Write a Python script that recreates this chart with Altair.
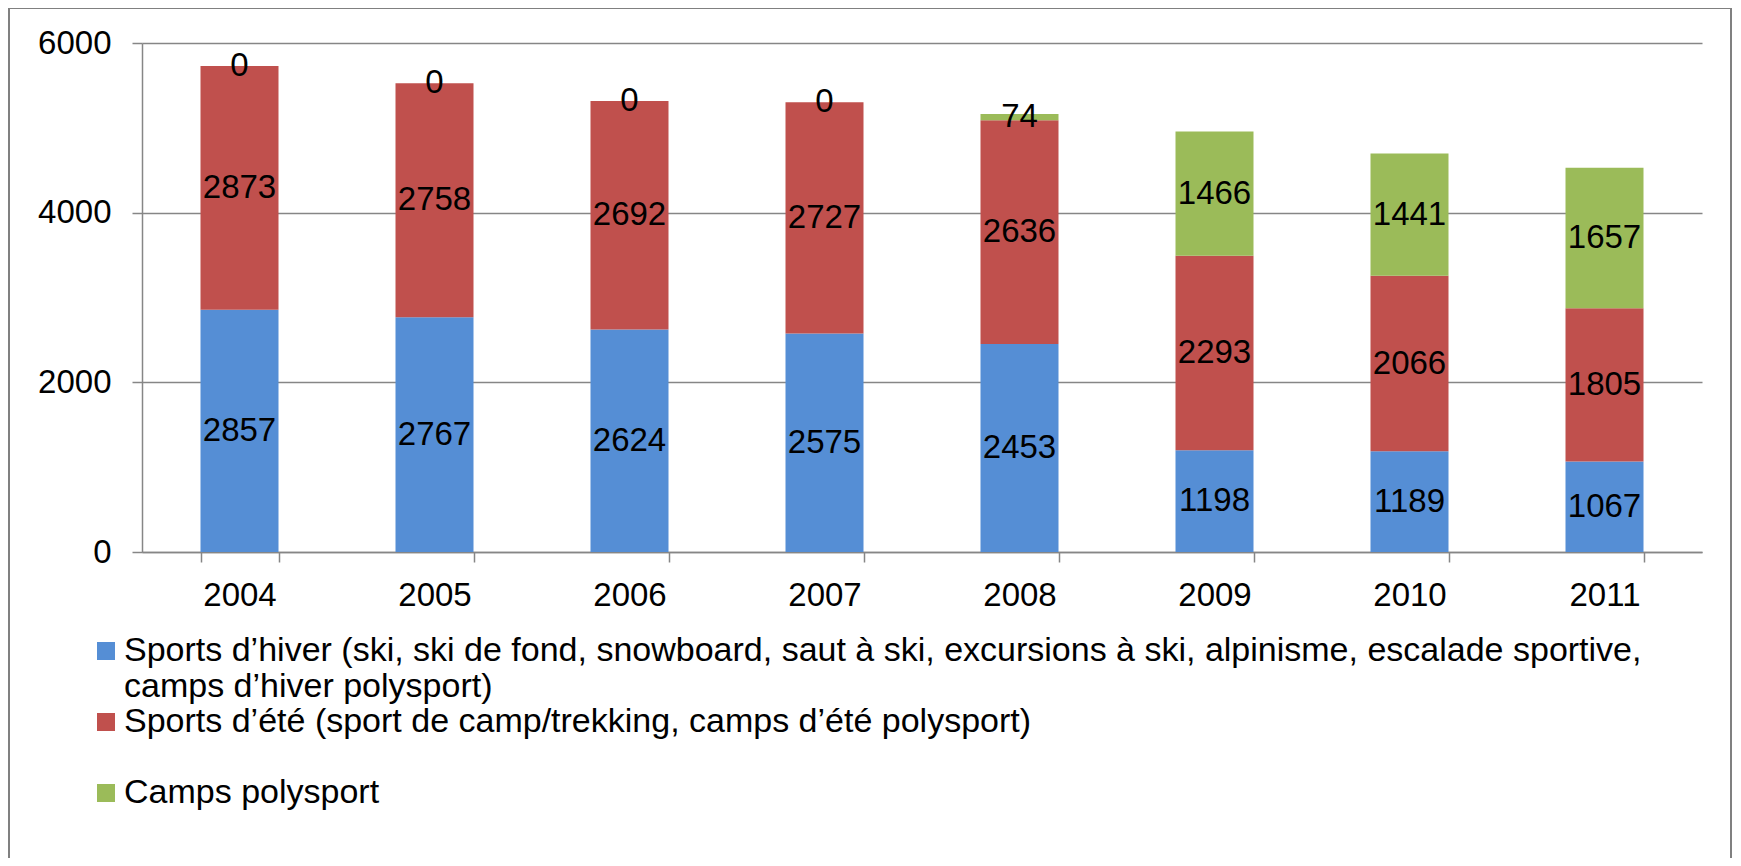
import json
import altair as alt
import pandas as pd

years = ["2004", "2005", "2006", "2007", "2008", "2009", "2010", "2011"]
series = [
    "Sports d’hiver (ski, ski de fond, snowboard, saut à ski, excursions à ski, alpinisme, escalade sportive, camps d’hiver polysport)",
    "Sports d’été (sport de camp/trekking, camps d’été polysport)",
    "Camps polysport",
]
hiver = [2857, 2767, 2624, 2575, 2453, 1198, 1189, 1067]
ete = [2873, 2758, 2692, 2727, 2636, 2293, 2066, 1805]
poly = [0, 0, 0, 0, 74, 1466, 1441, 1657]
colors = ["#558ED5", "#C0504D", "#9BBB59"]
y_ticks = [0, 2000, 4000, 6000]

rows = []
for i, y in enumerate(years):
    for k, vals in enumerate([hiver, ete, poly]):
        rows.append({"year": y, "series": series[k], "order": k, "value": vals[i]})
df = pd.DataFrame(rows)

FONT = "Liberation Sans"
line1 = "Sports d’hiver (ski, ski de fond, snowboard, saut à ski, excursions à ski, alpinisme, escalade sportive,"
line2 = "camps d’hiver polysport)"
label_expr = (
    f"datum.label == {json.dumps(series[0])} ? [{json.dumps(line1)}, {json.dumps(line2)}] "
    f": [datum.label, ' ']"
)

base = alt.Chart(df).transform_stack(
    stack="value", groupby=["year"], as_=["v0", "v1"], sort=[alt.SortField("order")]
).transform_calculate(mid="(datum.v0 + datum.v1) / 2")

x_enc = alt.X(
    "year:N",
    sort=years,
    scale=alt.Scale(paddingInner=0.6, paddingOuter=0.3),
    axis=alt.Axis(
        title=None, labelAngle=0, labelFont=FONT, labelFontSize=33, labelColor="black",
        tickSize=10, tickColor="#868686", tickWidth=1.5, tickBand="extent",
        domainColor="#868686", domainWidth=1.5, labelPadding=17, grid=False,
    ),
)

bars = base.mark_bar().encode(
    x=x_enc,
    y=alt.Y(
        "v0:Q",
        scale=alt.Scale(domain=[0, 6000], nice=False),
        axis=alt.Axis(
            title=None, values=y_ticks, format="d", labelFont=FONT, labelFontSize=33,
            labelColor="black", tickSize=10, tickColor="#868686", tickWidth=1.5,
            domainColor="#868686", domainWidth=1.5, gridColor="#868686", gridWidth=1.5,
            labelPadding=21,
        ),
    ),
    y2="v1:Q",
    color=alt.Color(
        "series:N",
        sort=series,
        scale=alt.Scale(domain=series, range=colors),
        legend=alt.Legend(
            title=None, orient="none", legendX=-53, legendY=591, direction="vertical",
            symbolType="square", symbolSize=324, symbolStrokeWidth=0, labelFont=FONT,
            labelFontSize=34, labelColor="black", labelLimit=0, labelOffset=1,
            labelExpr=label_expr, rowPadding=1, padding=0,
        ),
    ),
    order=alt.Order("order:Q"),
)

labels = base.mark_text(font=FONT, fontSize=33, color="black", baseline="middle", align="center").encode(
    x=alt.X("year:N", sort=years),
    y=alt.Y("mid:Q"),
    text=alt.Text("value:Q", format="d"),
)

frame = alt.Chart(alt.Data(values=[{"f": 1}])).mark_rect(
    fill=None, stroke="#808080", strokeWidth=2
).encode(
    x=alt.value(-133), x2=alt.value(1589), y=alt.value(-35), y2=alt.value(900)
)

chart = alt.layer(frame, bars, labels).properties(
    width=1560, height=509,
    autosize=alt.AutoSizeParams(type="none"),
    padding={"left": 134, "top": 35, "right": 31, "bottom": 306},
).configure_view(stroke=None)

chart.save("out.html", embed_options={"renderer": "svg", "actions": False})
